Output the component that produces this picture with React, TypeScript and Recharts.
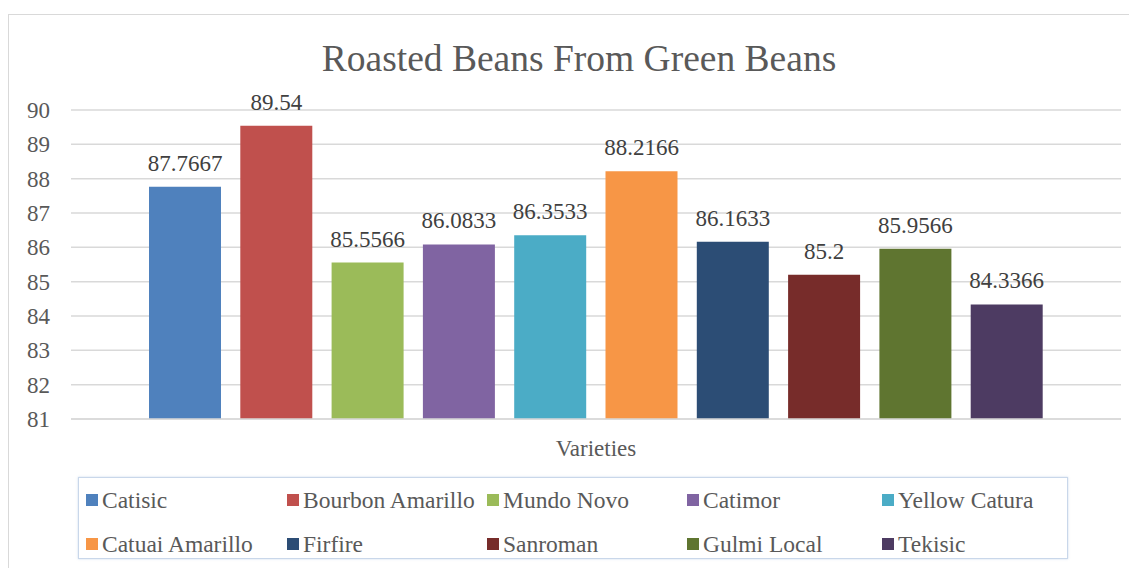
import React from 'react';
import { BarChart, Bar, XAxis, YAxis, CartesianGrid, LabelList, Legend, Customized } from 'recharts';

const categories = ['Varieties'];
const seriesNames = [
  'Catisic', 'Bourbon Amarillo', 'Mundo Novo', 'Catimor', 'Yellow Catura',
  'Catuai Amarillo', 'Firfire', 'Sanroman', 'Gulmi Local', 'Tekisic',
];
const seriesValues = [87.7667, 89.54, 85.5566, 86.0833, 86.3533, 88.2166, 86.1633, 85.2, 85.9566, 84.3366];
const seriesColors = [
  '#4f81bd', '#c0504d', '#9bbb59', '#8064a2', '#4bacc6',
  '#f79646', '#2c4d75', '#772c2a', '#5f7530', '#4d3b62',
];
const yTicks = [81, 82, 83, 84, 85, 86, 87, 88, 89, 90];
const title = 'Roasted Beans From Green Beans';

const data = categories.map((c) => {
  const row: Record<string, any> = { name: c };
  seriesNames.forEach((s, i) => { row['s' + i] = seriesValues[i]; });
  return row;
});

const FONT = "'Liberation Serif', Tinos, 'DejaVu Serif', serif";

const LegendBox = () => (
  <div
    style={{
      boxSizing: 'border-box',
      width: 990,
      height: 82,
      border: '1px solid #c9d7ea',
      boxShadow: '0 0 2px rgba(150,180,220,0.5)',
      background: '#fff',
      display: 'grid',
      gridTemplateColumns: '201px 200px 200px 195px 1fr',
      gridTemplateRows: '44px 44px',
      padding: '0 0 0 7px',
      fontFamily: FONT,
      fontSize: 23.5,
      color: '#595959',
    }}
  >
    {seriesNames.map((n, i) => (
      <div key={n} style={{ display: 'flex', alignItems: 'center', whiteSpace: 'nowrap' }}>
        <span style={{ display: 'inline-block', width: 12, height: 12, background: seriesColors[i], marginRight: 4 }} />
        <span>{n}</span>
      </div>
    ))}
  </div>
);

export default function App() {
  return (
    <div style={{ paddingTop: 6, fontFamily: FONT }}>
      <div style={{ width: 1145, height: 570, border: '1px solid #d9d9d9', boxSizing: 'border-box', position: 'relative' }}>
        <BarChart
          width={1143}
          height={560}
          data={data}
          margin={{ top: 95, right: 31, left: 0, bottom: 116 }}
          barCategoryGap={78}
          barGap={19.3}
          style={{ fontFamily: FONT }}
        >
          <Customized
            component={() => (
              <text x={570} y={43} textAnchor="middle" dominantBaseline="central" style={{ fontFamily: FONT }} fontSize={37.5} fill="#595959">
                {title}
              </text>
            )}
          />
          <CartesianGrid vertical={false} stroke="#d9d9d9" strokeWidth={1.5} />
          <XAxis
            dataKey="name"
            height={40}
            axisLine={{ stroke: '#d9d9d9', strokeWidth: 1.5 }}
            tickLine={false}
            tickSize={0}
            tickMargin={21}
            tick={{ fill: '#595959', fontSize: 23, style: { fontFamily: FONT } }}
          />
          <YAxis
            type="number"
            domain={[81, 90]}
            ticks={yTicks}
            interval={0}
            width={62}
            axisLine={false}
            tickLine={false}
            tickSize={0}
            tickMargin={21}
            allowDataOverflow
            tick={{ fill: '#595959', fontSize: 23, style: { fontFamily: FONT } }}
          />
          <Legend
            layout="horizontal"
            verticalAlign="middle"
            align="center"
            wrapperStyle={{ left: 69, top: 462, width: 990, height: 82 }}
            content={() => <LegendBox />}
          />
          {seriesNames.map((n, i) => (
            <Bar key={n} dataKey={'s' + i} name={n} fill={seriesColors[i]} isAnimationActive={false}>
              <LabelList
                dataKey={'s' + i}
                position="top"
                offset={16}
                fill="#404040"
                fontSize={23}
                style={{ fontFamily: FONT }}
              />
            </Bar>
          ))}
        </BarChart>
      </div>
    </div>
  );
}
